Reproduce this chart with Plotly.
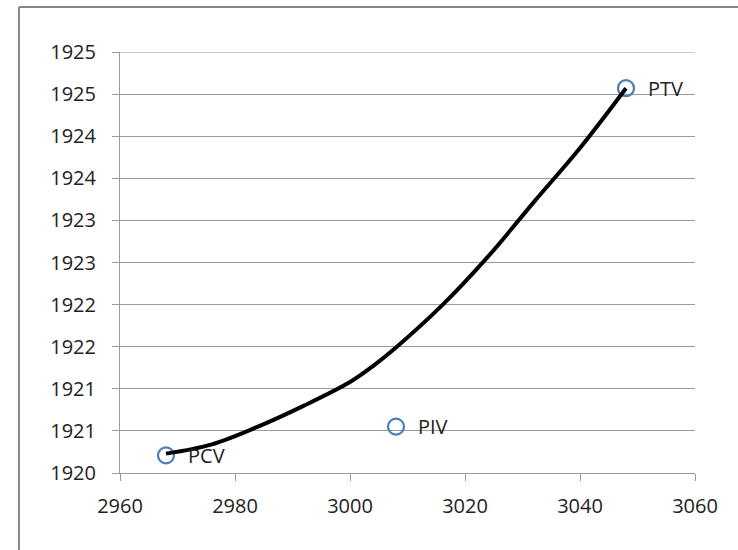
import plotly.graph_objects as go

# Points of the vertical curve
point_labels = ["PCV", "PIV", "PTV"]
point_x = [2968, 3008, 3048]
point_y = [1920.21, 1920.55, 1924.57]

# Curve
curve_x = [2968, 2976, 2984, 2992, 3000, 3004, 3008, 3016, 3024, 3032, 3040, 3048]
curve_y = [1920.23, 1920.34, 1920.55, 1920.80, 1921.08, 1921.27, 1921.49, 1921.99,
           1922.57, 1923.22, 1923.86, 1924.57]

# Axis ticks
x_ticks = [2960, 2980, 3000, 3020, 3040, 3060]
y_ticks = [1920, 1920.5, 1921, 1921.5, 1922, 1922.5, 1923, 1923.5, 1924, 1924.5, 1925]
y_tick_text = ["1920", "1921", "1921", "1922", "1922", "1923", "1923", "1924", "1924", "1925", "1925"]

FONT = dict(family="Open Sans, DejaVu Sans, sans-serif", size=20, color="#222222")
GRID = "#9a9a9a"

fig = go.Figure()
fig.add_trace(go.Scatter(
    x=point_x, y=point_y, mode="markers",
    marker=dict(symbol="circle-open", size=16, color="#4a7ebb", line=dict(width=2.2, color="#4a7ebb")),
    showlegend=False, hoverinfo="skip",
))
fig.add_trace(go.Scatter(
    x=curve_x, y=curve_y, mode="lines",
    line=dict(color="black", width=4, shape="spline", smoothing=1.0),
    showlegend=False, hoverinfo="skip",
))

for lbl, xv, yv in zip(point_labels, point_x, point_y):
    fig.add_annotation(x=xv, y=yv, text=lbl, showarrow=False, xanchor="left", yanchor="middle",
                       xshift=20, font=FONT)

# top gridline at the last y tick
fig.add_shape(type="line", xref="paper", yref="y", x0=0, x1=1, y0=y_ticks[-1], y1=y_ticks[-1],
              line=dict(color=GRID, width=1), layer="below")

# outer frame (left and top edges visible)
frame = dict(color="#878787", width=2)
fig.add_shape(type="line", xref="paper", yref="paper", x0=-0.1757, x1=-0.1757, y0=1.107, y1=-0.25, line=frame)
fig.add_shape(type="line", xref="paper", yref="paper", x0=-0.1757, x1=1.2, y0=1.107, y1=1.107, line=frame)

fig.update_layout(
    width=738, height=550,
    margin=dict(l=120, r=43, t=52, b=77),
    paper_bgcolor="white", plot_bgcolor="white",
    font=FONT,
    xaxis=dict(range=[2960, 3060], tickvals=x_ticks, showgrid=False, zeroline=False,
               showline=True, linecolor=GRID, linewidth=1, ticks="outside", ticklen=7,
               tickcolor=GRID, tickwidth=1, ticklabelstandoff=8, tickfont=FONT),
    yaxis=dict(range=[1920, 1925], tickvals=y_ticks, ticktext=y_tick_text, showgrid=True,
               gridcolor=GRID, gridwidth=1, zeroline=False, showline=True, linecolor=GRID,
               linewidth=1, ticks="outside", ticklen=7, tickcolor=GRID, tickwidth=1,
               ticklabelstandoff=12, tickfont=FONT),
)

fig.write_html("out.html")
